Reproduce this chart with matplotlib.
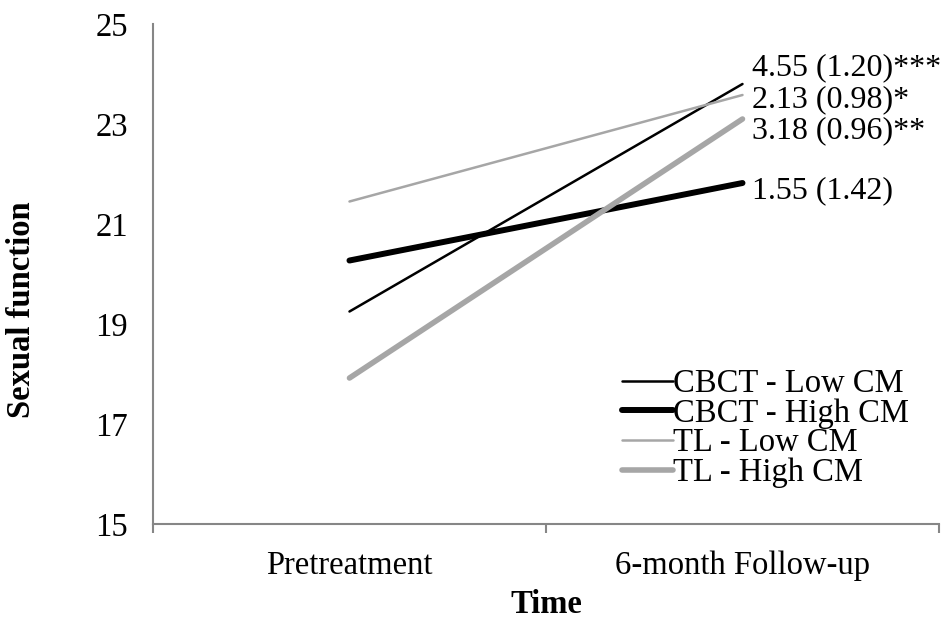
import matplotlib.pyplot as plt

plt.rcParams['font.family'] = ['Liberation Serif', 'DejaVu Serif']

zeitpunkte = ["Pretreatment", "6-month Follow-up"]
gruppen = ["CBCT - Low CM", "CBCT - High CM", "TL - Low CM", "TL - High CM"]
cbct_low = [19.25, 23.80]
cbct_high = [20.27, 21.82]
tl_low = [21.45, 23.58]
tl_high = [17.92, 23.10]
effekte = ["4.55 (1.20)***", "1.55 (1.42)", "2.13 (0.98)*", "3.18 (0.96)**"]

farben = ["black", "black", "#a6a6a6", "#a6a6a6"]
breiten = [1.8, 4.3, 1.8, 4.0]
# label offsets in points (dx, dy) relative to the end point
versatz = [(7, 11.5), (7, -5.8), (7, -3.6), (7, -8.6)]

fig = plt.figure(figsize=(9.46, 6.2), dpi=100)
ax = fig.add_axes([0.1617, 0.1548, 0.8309, 0.8065])

x = [0, 1]
for werte, name, farbe, lw, text, off in zip([cbct_low, cbct_high, tl_low, tl_high],
                                              gruppen, farben, breiten, effekte, versatz):
    ax.plot(x, werte, color=farbe, lw=lw, label=name, solid_capstyle='round')
    ax.annotate(text, xy=(1, werte[1]), xytext=off, textcoords='offset points',
                ha='left', va='center', fontsize=23)

ax.set_xlim(-0.5, 1.5)
ax.set_ylim(15, 25)
ax.set_yticks([15, 17, 19, 21, 23, 25])
ax.tick_params(axis='y', length=0, pad=18, labelsize=23.5)

ax.set_xticks([-0.5, 0.5, 1.5])
ax.set_xticklabels([])
ax.set_xticks([0, 1], minor=True)
ax.set_xticklabels(zeitpunkte, minor=True)
ax.tick_params(axis='x', which='major', length=6.5, width=1.5, color='#868686', direction='out')
ax.tick_params(axis='x', which='minor', length=0, pad=19, labelsize=23.5)

for s in ['top', 'right']:
    ax.spines[s].set_visible(False)
for s in ['left', 'bottom']:
    ax.spines[s].set_color('#868686')
    ax.spines[s].set_linewidth(1.5)

ax.set_xlabel("Time", fontsize=23.5, fontweight='bold', labelpad=6)
ax.set_ylabel("Sexual function", fontsize=23.5, fontweight='bold')
ax.yaxis.set_label_coords(-0.148, 0.428)

ax.legend(loc='center left', bbox_to_anchor=(0.6575, 0.309), bbox_transform=fig.transFigure,
          frameon=False, fontsize=23.5, handlelength=1.56, handletextpad=0.0,
          labelspacing=-0.03, borderpad=0, borderaxespad=0)

fig.savefig("out.png", dpi=100)
